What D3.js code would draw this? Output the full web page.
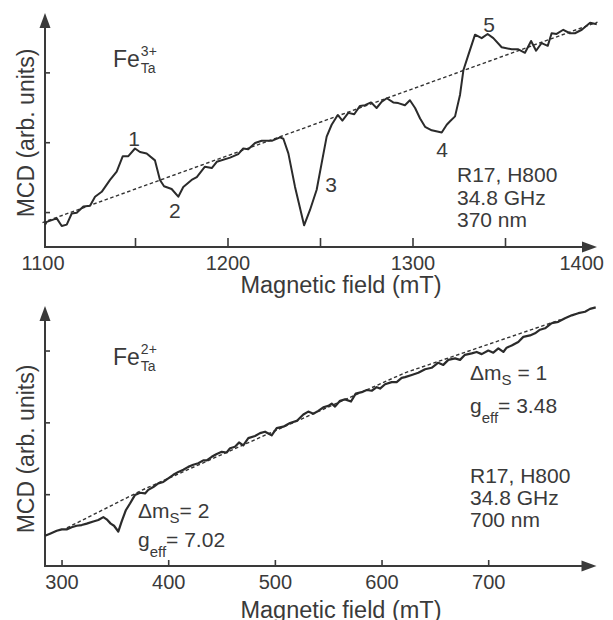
<!DOCTYPE html>
<html><head><meta charset="utf-8">
<script src="https://cdn.jsdelivr.net/npm/d3@7"></script>
<style>
html,body{margin:0;padding:0;background:#fff;}
text{font-family:"Liberation Sans",Arial,Helvetica,sans-serif;fill:#3a3a3a;}
</style></head>
<body>
<svg id="c" width="613" height="620"></svg>
<script>
// ---------- DATA ----------
// Top panel: Fe3+ (370 nm)
const topField = [1101.4,1102.3,1107.7,1110.4,1113.1,1115.8,1118.5,1122.1,1125.7,1128.4,1132.0,1136.5,1140.1,1143.4,1146.4,1150.0,1152.7,1156.3,1160.8,1163.5,1165.7,1169.8,1173.4,1176.1,1180.6,1183.4,1187.8,1191.5,1194.2,1201.4,1205.8,1208.5,1211.2,1214.9,1218.5,1223.9,1228.4,1230.2,1232.9,1236.5,1241.4,1244.6,1248.2,1250.9,1253.6,1256.3,1259.6,1262.1,1265.3,1268.5,1271.6,1274.3,1277.6,1280.6,1283.4,1286.1,1289.6,1292.3,1295.9,1298.6,1301.4,1304.1,1306.8,1310.4,1315.8,1318.5,1320.3,1323.0,1325.7,1327.5,1330.2,1333.8,1337.4,1340.6,1343.7,1348.2,1353.6,1357.2,1360.8,1364.1,1366.8,1369.8,1373.1,1375.2,1377.9,1381.5,1385.1,1387.8,1391.5,1396.0,1399.6];
const topMCD = [0.32,0.36,0.41,0.30,0.32,0.48,0.49,0.58,0.59,0.72,0.79,0.96,1.08,1.30,1.30,1.41,1.36,1.34,1.24,0.96,0.87,0.83,0.72,0.86,0.96,1.00,1.15,1.13,1.22,1.28,1.33,1.41,1.40,1.49,1.52,1.52,1.57,1.55,1.34,0.86,0.31,0.53,0.82,1.20,1.58,1.75,1.89,1.81,1.92,1.90,2.02,2.03,2.07,1.99,2.08,2.13,2.07,2.06,2.03,2.10,1.99,1.84,1.72,1.67,1.64,1.75,1.80,1.87,2.18,2.53,2.75,3.04,2.99,3.05,2.99,2.86,2.83,2.83,2.78,2.95,2.81,2.92,2.88,3.06,3.05,3.11,3.06,3.06,3.11,3.21,3.19];
const topBaseField = [1100, 1400];
const topBaseMCD = [0.35, 3.22];
const topXTicks = [1150, 1200, 1250, 1300, 1350];
const topXLabels = [1100, 1200, 1300, 1400];
const topYTicks = [0.5, 1.5, 2.5];
const topPeakField = [1149.5, 1171.6, 1256, 1316, 1341.4];
const topPeakMCD = [1.45, 0.42, 0.79, 1.29, 3.08];
const topPeakText = ["1", "2", "3", "4", "5"];
const topInfo = ["R17, H800", "34.8 GHz", "370 nm"];

// Bottom panel: Fe2+ (700 nm)
const botField = [284.5,289.2,295.5,300.2,304.8,309.5,314.2,318.9,323.6,329.8,334.5,339.2,342.3,346.1,349.2,353.2,356.4,360.4,364.2,368.9,373.6,378.3,381.3,386.0,390.7,395.4,400.1,404.8,409.5,414.2,418.8,423.5,428.2,432.9,436.1,440.8,445.5,450.2,454.8,458.0,462.6,466.4,470.4,475.1,481.4,486.1,490.8,497.0,501.7,507.9,514.2,520.5,526.7,531.3,536.1,540.7,545.4,550.1,553.3,556.4,561.1,565.8,571.4,575.8,581.4,586.1,590.8,595.5,598.6,603.3,609.5,614.2,618.9,622.0,628.3,634.5,640.8,647.0,653.2,657.9,662.6,668.9,673.6,678.2,684.5,689.2,693.9,700.1,704.8,709.5,714.2,717.3,722.0,728.2,732.9,739.2,743.9,748.6,753.3,759.5,765.7,772.0,778.3,784.5,790.8,795.5,800.8];
const botMCD = [0.42,0.45,0.49,0.51,0.51,0.54,0.56,0.57,0.59,0.62,0.64,0.68,0.65,0.59,0.56,0.48,0.62,0.78,0.87,0.99,1.02,1.01,1.06,1.10,1.15,1.17,1.22,1.27,1.31,1.34,1.38,1.41,1.43,1.47,1.47,1.52,1.56,1.59,1.58,1.64,1.66,1.72,1.68,1.78,1.81,1.85,1.87,1.82,1.92,1.94,1.99,2.02,2.11,2.15,2.12,2.16,2.21,2.23,2.26,2.22,2.30,2.32,2.29,2.40,2.42,2.45,2.44,2.49,2.47,2.53,2.56,2.56,2.62,2.63,2.66,2.69,2.74,2.76,2.83,2.80,2.87,2.89,2.87,2.94,2.96,2.98,2.95,3.00,2.97,3.03,2.98,3.04,3.07,3.12,3.19,3.21,3.24,3.29,3.31,3.38,3.40,3.45,3.49,3.52,3.54,3.58,3.60];
const botBaseField = [305, 376, 622, 768];
const botBaseMCD = [0.53, 1.06, 2.69, 3.43];
const botXTicks = [300, 400, 500, 600, 700];
const botYTicks = [1, 2, 3];
const botInfo = ["R17, H800", "34.8 GHz", "700 nm"];

const xTitle = "Magnetic field (mT)";
const yTitle = "MCD (arb. units)";

// ---------- DRAW ----------
const svg = d3.select("#c");
const INK = "#3a3a3a";
const FONT = 20;
const NOTE = 21;

function arrowHead(g, x, y, dir) {
  const L = 15, W = 5.5;
  const pts = dir === "up"
    ? [[x, y], [x - W, y + L], [x + W, y + L]]
    : [[x, y], [x - L, y - W], [x - L, y + W]];
  g.append("path").attr("d", "M" + pts.map(p => p.join(",")).join("L") + "Z").attr("fill", INK);
}

function panel(opt) {
  const g = svg.append("g");
  const x = d3.scaleLinear().domain(opt.xDomain).range(opt.xRange);
  const y = d3.scaleLinear().domain(opt.yDomain).range(opt.yRange);
  const x0 = opt.axisX, y0 = opt.yRange[0], xEnd = opt.xRange[1] - 0.5, yTop = opt.yRange[1];

  g.append("line").attr("x1", x0).attr("x2", xEnd - 10).attr("y1", y0).attr("y2", y0)
    .attr("stroke", INK).attr("stroke-width", 2);
  g.append("line").attr("x1", x0).attr("x2", x0).attr("y1", y0 + 1).attr("y2", yTop + 10)
    .attr("stroke", INK).attr("stroke-width", 2);
  arrowHead(g, xEnd, y0, "right");
  arrowHead(g, x0, yTop, "up");

  const xa = g.append("g").attr("transform", `translate(0,${y0})`)
    .call(d3.axisBottom(x).tickValues(opt.xTicks).tickSizeInner(-opt.xTickLen).tickSizeOuter(0).tickFormat(""));
  xa.select(".domain").remove();
  xa.selectAll(".tick line").attr("stroke", INK).attr("stroke-width", 1.6);

  const xl = g.append("g").attr("transform", `translate(0,${y0})`)
    .call(d3.axisBottom(x).tickValues(opt.xLabels).tickSize(0).tickPadding(opt.labelPad).tickFormat(d3.format("d")));
  xl.select(".domain").remove();
  xl.selectAll("text").style("font-family", '"Liberation Sans",Arial,sans-serif')
    .attr("font-size", FONT).attr("fill", INK);
  if (opt.lastLabelEnd) {
    xl.selectAll(".tick").filter(d => d === opt.xLabels[opt.xLabels.length - 1])
      .select("text").attr("text-anchor", "end").attr("dx", 6);
  }

  const ya = g.append("g").attr("transform", `translate(${x0},0)`)
    .call(d3.axisLeft(y).tickValues(opt.yTicks).tickSizeInner(-5).tickSizeOuter(0).tickFormat(""));
  ya.select(".domain").remove();
  ya.selectAll(".tick line").attr("stroke", INK).attr("stroke-width", 1.6);

  g.append("text").attr("x", 341).attr("y", opt.xTitleY).attr("text-anchor", "middle")
    .attr("font-size", 23.5).text(xTitle);
  g.append("text").attr("transform", `translate(${opt.yTitleX},${opt.yTitleY}) rotate(-90)`)
    .attr("text-anchor", "middle").attr("font-size", 23).text(yTitle);

  const bl = d3.line().x(d => x(d[0])).y(d => y(d[1]));
  g.append("path").datum(d3.zip(opt.baseF, opt.baseV)).attr("d", bl)
    .attr("fill", "none").attr("stroke", "#333").attr("stroke-width", 1.4).attr("stroke-dasharray", "3.5,2.5");

  g.append("path").datum(d3.zip(opt.field, opt.mcd)).attr("d", bl)
    .attr("fill", "none").attr("stroke", "#2b2b2b").attr("stroke-width", opt.lw).attr("stroke-linejoin", "round");

  return { g, x, y };
}

function feLabel(g, xPos, yBase, sup) {
  const t = g.append("text").attr("x", xPos).attr("y", yBase).attr("font-size", 23).text("Fe");
  const w = t.node().getComputedTextLength();
  g.append("text").attr("x", xPos + w + 1).attr("y", yBase - 11).attr("font-size", 14).text(sup);
  g.append("text").attr("x", xPos + w + 1).attr("y", yBase + 6).attr("font-size", 14).text("Ta");
}

function subText(g, xPos, yBase, main, sub, rest, subDy) {
  const t = g.append("text").attr("x", xPos).attr("y", yBase).attr("font-size", NOTE);
  t.append("tspan").text(main);
  t.append("tspan").attr("dy", subDy).attr("font-size", 15).text(sub);
  t.append("tspan").attr("dy", -subDy).text(rest);
}

// Top panel
const T = panel({
  xDomain: [1100, 1400], xRange: [42.5, 597.5], yDomain: [0, 3.35], yRange: [247, 13],
  axisX: 45, xTicks: topXTicks, xLabels: topXLabels, yTicks: topYTicks, xTickLen: 9, labelPad: 9,
  lastLabelEnd: true, xTitleY: 293, yTitleX: 34, yTitleY: 133,
  baseF: topBaseField, baseV: topBaseMCD, field: topField, mcd: topMCD, lw: 2
});
feLabel(T.g, 113, 66.7, "3+");
T.g.selectAll(".peak").data(d3.zip(topPeakField, topPeakMCD, topPeakText)).enter()
  .append("text").attr("class", "peak").attr("x", d => T.x(d[0])).attr("y", d => T.y(d[1]))
  .attr("text-anchor", "middle").attr("font-size", NOTE).text(d => d[2]);
topInfo.forEach((s, i) => T.g.append("text").attr("x", 457).attr("y", 182 + i * 22.5).attr("font-size", NOTE).text(s));

// Bottom panel
const B = panel({
  xDomain: [284.5, 802], xRange: [45, 597], yDomain: [0, 3.62], yRange: [566, 306],
  axisX: 45, xTicks: botXTicks, xLabels: botXTicks, yTicks: botYTicks, xTickLen: 6, labelPad: 9,
  lastLabelEnd: false, xTitleY: 618, yTitleX: 34, yTitleY: 449,
  baseF: botBaseField, baseV: botBaseMCD, field: botField, mcd: botMCD, lw: 2.2
});
feLabel(B.g, 113, 365, "2+");
subText(B.g, 138, 518, "\u0394m", "S", "= 2", 5);
subText(B.g, 138, 547, "g", "eff", "= 7.02", 10);
subText(B.g, 470, 380, "\u0394m", "S", " = 1", 5);
subText(B.g, 470, 413, "g", "eff", "= 3.48", 10);
botInfo.forEach((s, i) => B.g.append("text").attr("x", 470).attr("y", 483 + i * 22).attr("font-size", NOTE).text(s));
</script>
</body></html>
